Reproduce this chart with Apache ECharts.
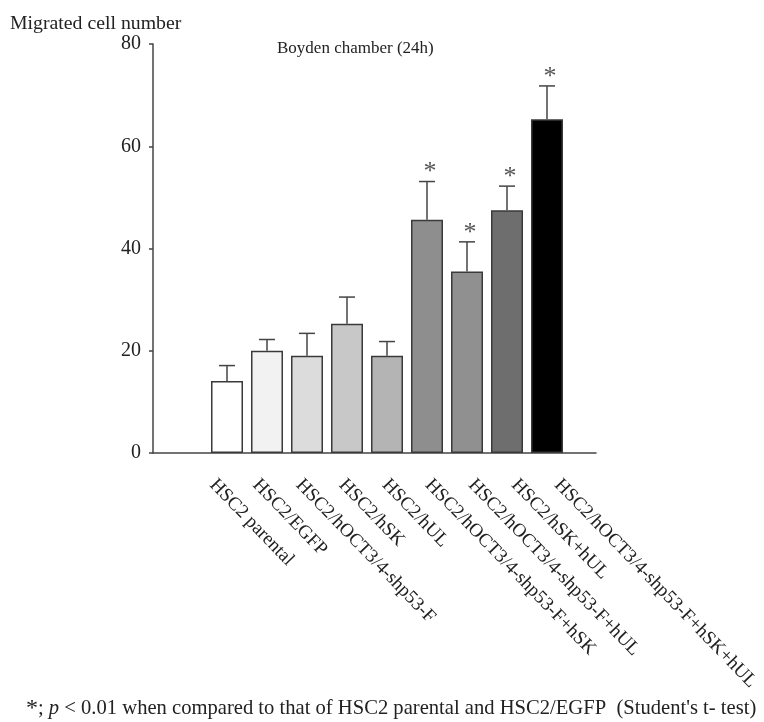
<!DOCTYPE html>
<html>
<head>
<meta charset="utf-8">
<script src="https://cdn.jsdelivr.net/npm/echarts@6/dist/echarts.min.js"></script>
<style>html,body{margin:0;padding:0;background:#fff;}#c{width:764px;height:722px;}</style>
</head>
<body>
<div id="c"></div>
<script>
const categories = ['HSC2 parental','HSC2/EGFP','HSC2/hOCT3/4-shp53-F','HSC2/hSK','HSC2/hUL','HSC2/hOCT3/4-shp53-F+hSK','HSC2/hOCT3/4-shp53-F+hUL','HSC2/hSK+hUL','HSC2/hOCT3/4-shp53-F+hSK+hUL'];
const means = [14.1, 20.0, 19.0, 25.3, 19.0, 45.6, 35.5, 47.5, 65.3];
const errTops = [17.1, 22.2, 23.4, 30.5, 21.8, 53.1, 41.3, 52.2, 71.8];
const significant = [0, 0, 0, 0, 0, 1, 1, 1, 1];
const barColors = ['#ffffff','#f2f2f2','#dcdcdc','#c8c8c8','#b4b4b4','#8e8e8e','#909090','#6e6e6e','#000000'];
const yTicks = [0, 20, 40, 60, 80];

const FONT = 'Liberation Serif';
const chart = echarts.init(document.getElementById('c'));
const errData = means.map((m, i) => [i, m, errTops[i], significant[i]]);

chart.setOption({
  animation: false,
  backgroundColor: '#fff',
  title: [
    { text: 'Migrated cell number', left: 5, top: 9, textStyle: { fontFamily: FONT, fontSize: 19.8, fontWeight: 'normal', color: '#222' } },
    { text: 'Boyden chamber (24h)', left: 272, top: 35, textStyle: { fontFamily: FONT, fontSize: 17, fontWeight: 'normal', color: '#222' } },
    { text: '{s|*}; {i|p} < 0.01 when compared to that of HSC2 parental and HSC2/EGFP  (Student\'s t- test)', left: 21, top: 692,
      textStyle: { fontFamily: FONT, fontSize: 20.6, fontWeight: 'normal', color: '#222',
        rich: { s: { fontFamily: FONT, fontSize: 24, color: '#222' }, i: { fontFamily: FONT, fontSize: 20.6, fontStyle: 'italic', color: '#222' } } } }
  ],
  grid: [
    { left: 207, top: 44, width: 360, height: 409 },
    { left: 153, top: 44, width: 443, height: 409 },
    { left: 191, top: 44, width: 388, height: 409 }
  ],
  xAxis: [
    { gridIndex: 0, type: 'category', data: categories,
      axisLine: { show: false }, axisTick: { show: false }, axisLabel: { show: false } },
    { gridIndex: 1, type: 'value', min: 0, max: 1,
      axisLine: { show: true, lineStyle: { color: '#444', width: 1.5 } },
      axisTick: { show: false }, axisLabel: { show: false }, splitLine: { show: false } },
    { gridIndex: 2, type: 'category', data: categories,
      axisLine: { show: false }, axisTick: { show: false },
      axisLabel: { rotate: -46, margin: 29, interval: 0, fontFamily: FONT, fontSize: 19, color: '#222' } }
  ],
  yAxis: [
    { gridIndex: 0, type: 'value', min: 0, max: 80, interval: 20, offset: 54,
      axisLine: { show: true, lineStyle: { color: '#444', width: 1.5 } },
      axisTick: { show: true, length: 4, lineStyle: { color: '#444', width: 1.5 } },
      axisLabel: { margin: 12, fontFamily: FONT, fontSize: 20, color: '#222',
        formatter: v => yTicks.includes(v) ? String(v) : '' },
      splitLine: { show: false } },
    { gridIndex: 1, type: 'value', min: 0, max: 80, show: false },
    { gridIndex: 2, type: 'value', min: 0, max: 80, show: false }
  ],
  series: [
    { type: 'bar', xAxisIndex: 0, yAxisIndex: 0, barWidth: 32,
      data: means.map((v, i) => ({ value: v, itemStyle: { color: barColors[i] } })),
      itemStyle: { borderColor: '#3a3a3a', borderWidth: 1.5 } },
    { type: 'custom', xAxisIndex: 0, yAxisIndex: 0, data: errData, z: 3,
      renderItem: function (params, api) {
        const i = api.value(0);
        const p0 = api.coord([i, api.value(1)]);
        const p1 = api.coord([i, api.value(2)]);
        const half = 8;
        const children = [
          { type: 'line', shape: { x1: p0[0], y1: p0[1], x2: p1[0], y2: p1[1] }, style: { stroke: '#444', lineWidth: 1.5 } },
          { type: 'line', shape: { x1: p1[0] - half, y1: p1[1], x2: p1[0] + half, y2: p1[1] }, style: { stroke: '#444', lineWidth: 1.5 } }
        ];
        if (api.value(3)) {
          children.push({ type: 'text', x: p1[0] + 3, y: p1[1] + 4,
            style: { text: '*', fontFamily: FONT, fontSize: 26, fill: '#555', align: 'center', verticalAlign: 'bottom' } });
        }
        return { type: 'group', children: children };
      } }
  ]
});
</script>
</body>
</html>
